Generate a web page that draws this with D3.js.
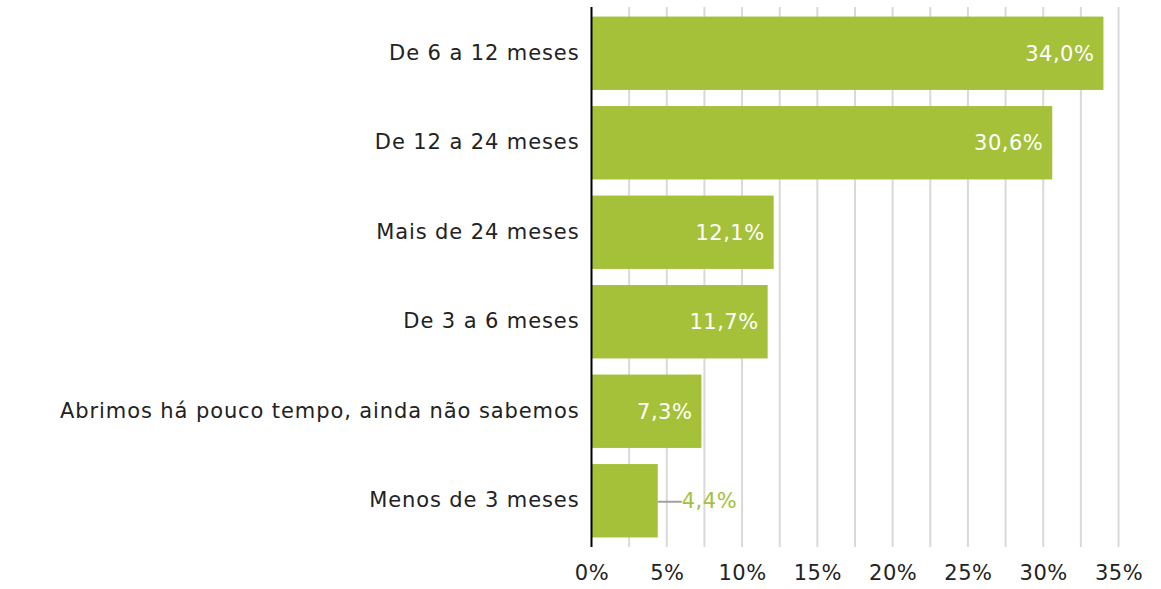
<!DOCTYPE html>
<html>
<head>
<meta charset="utf-8">
<script src="https://cdn.jsdelivr.net/npm/d3@7"></script>
<style>
  body { margin: 0; background: #fff; }
  svg text { font-family: "DejaVu Sans", sans-serif; letter-spacing: 0.5px; }
  .y-label text { letter-spacing: 0.9px; }
</style>
</head>
<body>
<div id="chart"></div>
<script>
// Chart data
const categories = [
    'De 6 a 12 meses',
    'De 12 a 24 meses',
    'Mais de 24 meses',
    'De 3 a 6 meses',
    'Abrimos há pouco tempo, ainda não sabemos',
    'Menos de 3 meses'
];
const values = [34.0, 30.6, 12.1, 11.7, 7.3, 4.4];
const tickValues = [0, 5, 10, 15, 20, 25, 30, 35];
const gridValues = [2.5, 5, 7.5, 10, 12.5, 15, 17.5, 20, 22.5, 25, 27.5, 30, 32.5, 35];

const W = 1161, H = 589;
const plotLeft = 591.5, plotRight = 1118.5, plotTop = 7, plotBottom = 547;
const barColor = '#a5c13a';
const fontSize = '21px';

const svg = d3.select('#chart').append('svg')
    .attr('width', W)
    .attr('height', H);

const x = d3.scaleLinear().domain([0, 35]).range([plotLeft, plotRight]);
const y = d3.scaleBand()
    .domain(categories)
    .range([8.5, 545.5])
    .paddingInner(0.18)
    .paddingOuter(0.09);

// Vertical gridlines
svg.append('g')
    .selectAll('line')
    .data(gridValues)
    .join('line')
    .attr('x1', d => x(d))
    .attr('x2', d => x(d))
    .attr('y1', plotTop)
    .attr('y2', plotBottom)
    .attr('stroke', '#d9d9d9')
    .attr('stroke-width', 2);

// X axis tick labels
const xAxis = svg.append('g')
    .attr('transform', `translate(0,${plotBottom})`)
    .call(d3.axisBottom(x).tickValues(tickValues).tickSize(0).tickPadding(18).tickFormat(d => d + '%'));
xAxis.select('.domain').remove();
xAxis.selectAll('text')
    .attr('fill', '#222')
    .style('font-size', fontSize);

// Bars
svg.append('g')
    .selectAll('rect')
    .data(values)
    .join('rect')
    .attr('x', x(0))
    .attr('y', (d, i) => y(categories[i]))
    .attr('width', d => x(d) - x(0))
    .attr('height', y.bandwidth())
    .attr('fill', barColor);

// Category labels
const yAxis = svg.append('g')
    .attr('class', 'y-label')
    .attr('transform', `translate(${plotLeft},0)`)
    .call(d3.axisLeft(y).tickSize(0).tickPadding(12));
yAxis.select('.domain').remove();
yAxis.selectAll('text')
    .attr('fill', '#222')
    .style('font-size', fontSize);

// Axis line
svg.append('line')
    .attr('x1', plotLeft)
    .attr('x2', plotLeft)
    .attr('y1', plotTop)
    .attr('y2', plotBottom)
    .attr('stroke', '#000')
    .attr('stroke-width', 2);

// Value labels
const fmt = d => d.toFixed(1).replace('.', ',') + '%';
values.forEach((v, i) => {
    const cy = y(categories[i]) + y.bandwidth() / 2;
    if (v > 5) {
        svg.append('text')
            .attr('x', x(v) - 9)
            .attr('y', cy)
            .attr('dy', '0.35em')
            .attr('text-anchor', 'end')
            .attr('fill', '#fff')
            .style('font-size', fontSize)
            .text(fmt(v));
    } else {
        svg.append('line')
            .attr('x1', x(v))
            .attr('x2', x(v) + 24)
            .attr('y1', cy + 1)
            .attr('y2', cy + 1)
            .attr('stroke', '#a0a0a0')
            .attr('stroke-width', 2);
        svg.append('text')
            .attr('x', x(v) + 24)
            .attr('y', cy)
            .attr('dy', '0.35em')
            .attr('text-anchor', 'start')
            .attr('fill', barColor)
            .style('font-size', fontSize)
            .text(fmt(v));
    }
});
</script>
</body>
</html>
